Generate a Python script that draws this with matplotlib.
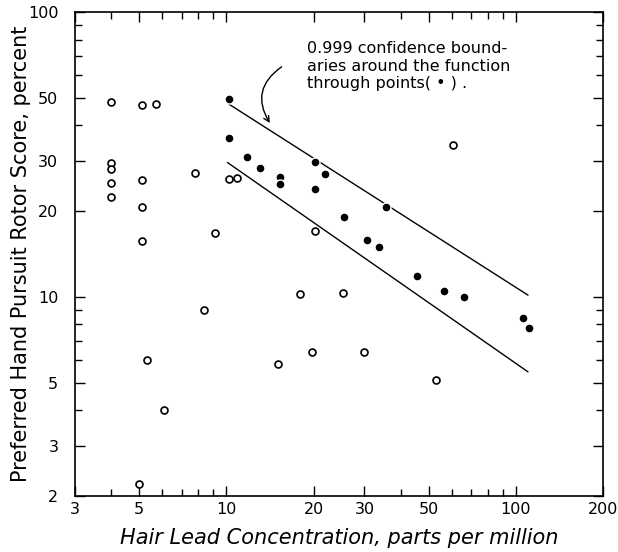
import numpy as np
import matplotlib
matplotlib.use("Agg")
import matplotlib.pyplot as plt
from matplotlib.ticker import FixedLocator, FixedFormatter, NullFormatter

# open circles: subjects outside the fitted group
open_x = [4.0, 5.1, 5.7, 4.0, 4.0, 4.0, 4.0, 5.1, 5.1, 5.1, 7.8, 9.1, 10.2, 10.9,
          20.3, 60.5, 18.0, 25.3, 8.4, 5.3, 6.1, 5.0, 15.1, 19.7, 30.0, 53.0]
open_y = [48.2, 47.0, 47.5, 29.4, 28.2, 25.2, 22.5, 25.8, 20.6, 15.7, 27.3, 16.8, 26.0, 26.2,
          17.1, 34.0, 10.2, 10.3, 9.0, 6.0, 4.0, 2.2, 5.8, 6.4, 6.4, 5.1]

# filled circles: points the function was fitted through
fill_x = [10.2, 10.2, 11.8, 13.1, 15.3, 15.3, 20.3, 22.0, 20.3, 25.4, 35.5, 30.5,
          33.7, 45.4, 56.5, 66.4, 106.0, 111.0]
fill_y = [49.5, 36.2, 30.9, 28.3, 26.4, 24.9, 29.7, 27.1, 23.9, 19.0, 20.7, 15.9,
          15.0, 11.8, 10.5, 10.0, 8.4, 7.8]

# 0.999 confidence boundaries
upper_x = [10.2, 110.0]
upper_y = [47.5, 10.15]
lower_x = [10.1, 110.0]
lower_y = [29.6, 5.46]

xticks = [3, 5, 10, 20, 30, 50, 100, 200]
yticks = [2, 3, 5, 10, 20, 30, 50, 100]
xminor = [4, 6, 7, 8, 9, 40, 60, 70, 80, 90]
yminor = [4, 6, 7, 8, 9, 40, 60, 70, 80, 90]

fig = plt.figure(figsize=(6.18, 5.52), dpi=100)
ax = fig.add_axes([75/618, 1-496/552, (603-75)/618, (496-12)/552])

ax.plot(upper_x, upper_y, color="black", lw=1.0)
ax.plot(lower_x, lower_y, color="black", lw=1.0)
ax.plot(open_x, open_y, "o", mfc="white", mec="black", ms=5, mew=1.2, ls="none")
ax.plot(fill_x, fill_y, "o", mfc="black", mec="white", ms=6.5, mew=1.0, ls="none")

ax.set_xscale("log")
ax.set_yscale("log")
ax.set_xlim(3, 200)
ax.set_ylim(2, 100)

ax.xaxis.set_major_locator(FixedLocator(xticks))
ax.xaxis.set_major_formatter(FixedFormatter([str(v) for v in xticks]))
ax.xaxis.set_minor_locator(FixedLocator(xminor))
ax.xaxis.set_minor_formatter(NullFormatter())
ax.yaxis.set_major_locator(FixedLocator(yticks))
ax.yaxis.set_major_formatter(FixedFormatter([str(v) for v in yticks]))
ax.yaxis.set_minor_locator(FixedLocator(yminor))
ax.yaxis.set_minor_formatter(NullFormatter())

ax.tick_params(which="both", direction="in", top=True, right=True, width=1.0)
ax.tick_params(which="major", length=7)
ax.tick_params(which="minor", length=5)
ax.tick_params(axis="x", which="major", pad=4, labelsize=11.5)
ax.tick_params(axis="y", which="major", pad=12, labelsize=11.5)
for s in ax.spines.values():
    s.set_linewidth(1.2)

ax.set_xlabel("Hair Lead Concentration, parts per million", fontsize=15,
              style="italic", labelpad=8)
ax.set_ylabel("Preferred Hand Pursuit Rotor Score, percent", fontsize=15, labelpad=-2)

ax.text(0.439, 0.94, "0.999 confidence bound-\naries around the function\nthrough points( \u2022 ) .",
        transform=ax.transAxes, fontsize=11.5, va="top", ha="left", linespacing=1.22)

ax.annotate("", xy=(14.3, 40), xytext=(15.8, 65),
            arrowprops=dict(arrowstyle="->", color="black", lw=1.0,
                            connectionstyle="arc3,rad=0.5"))

fig.savefig("out.png", dpi=100)
